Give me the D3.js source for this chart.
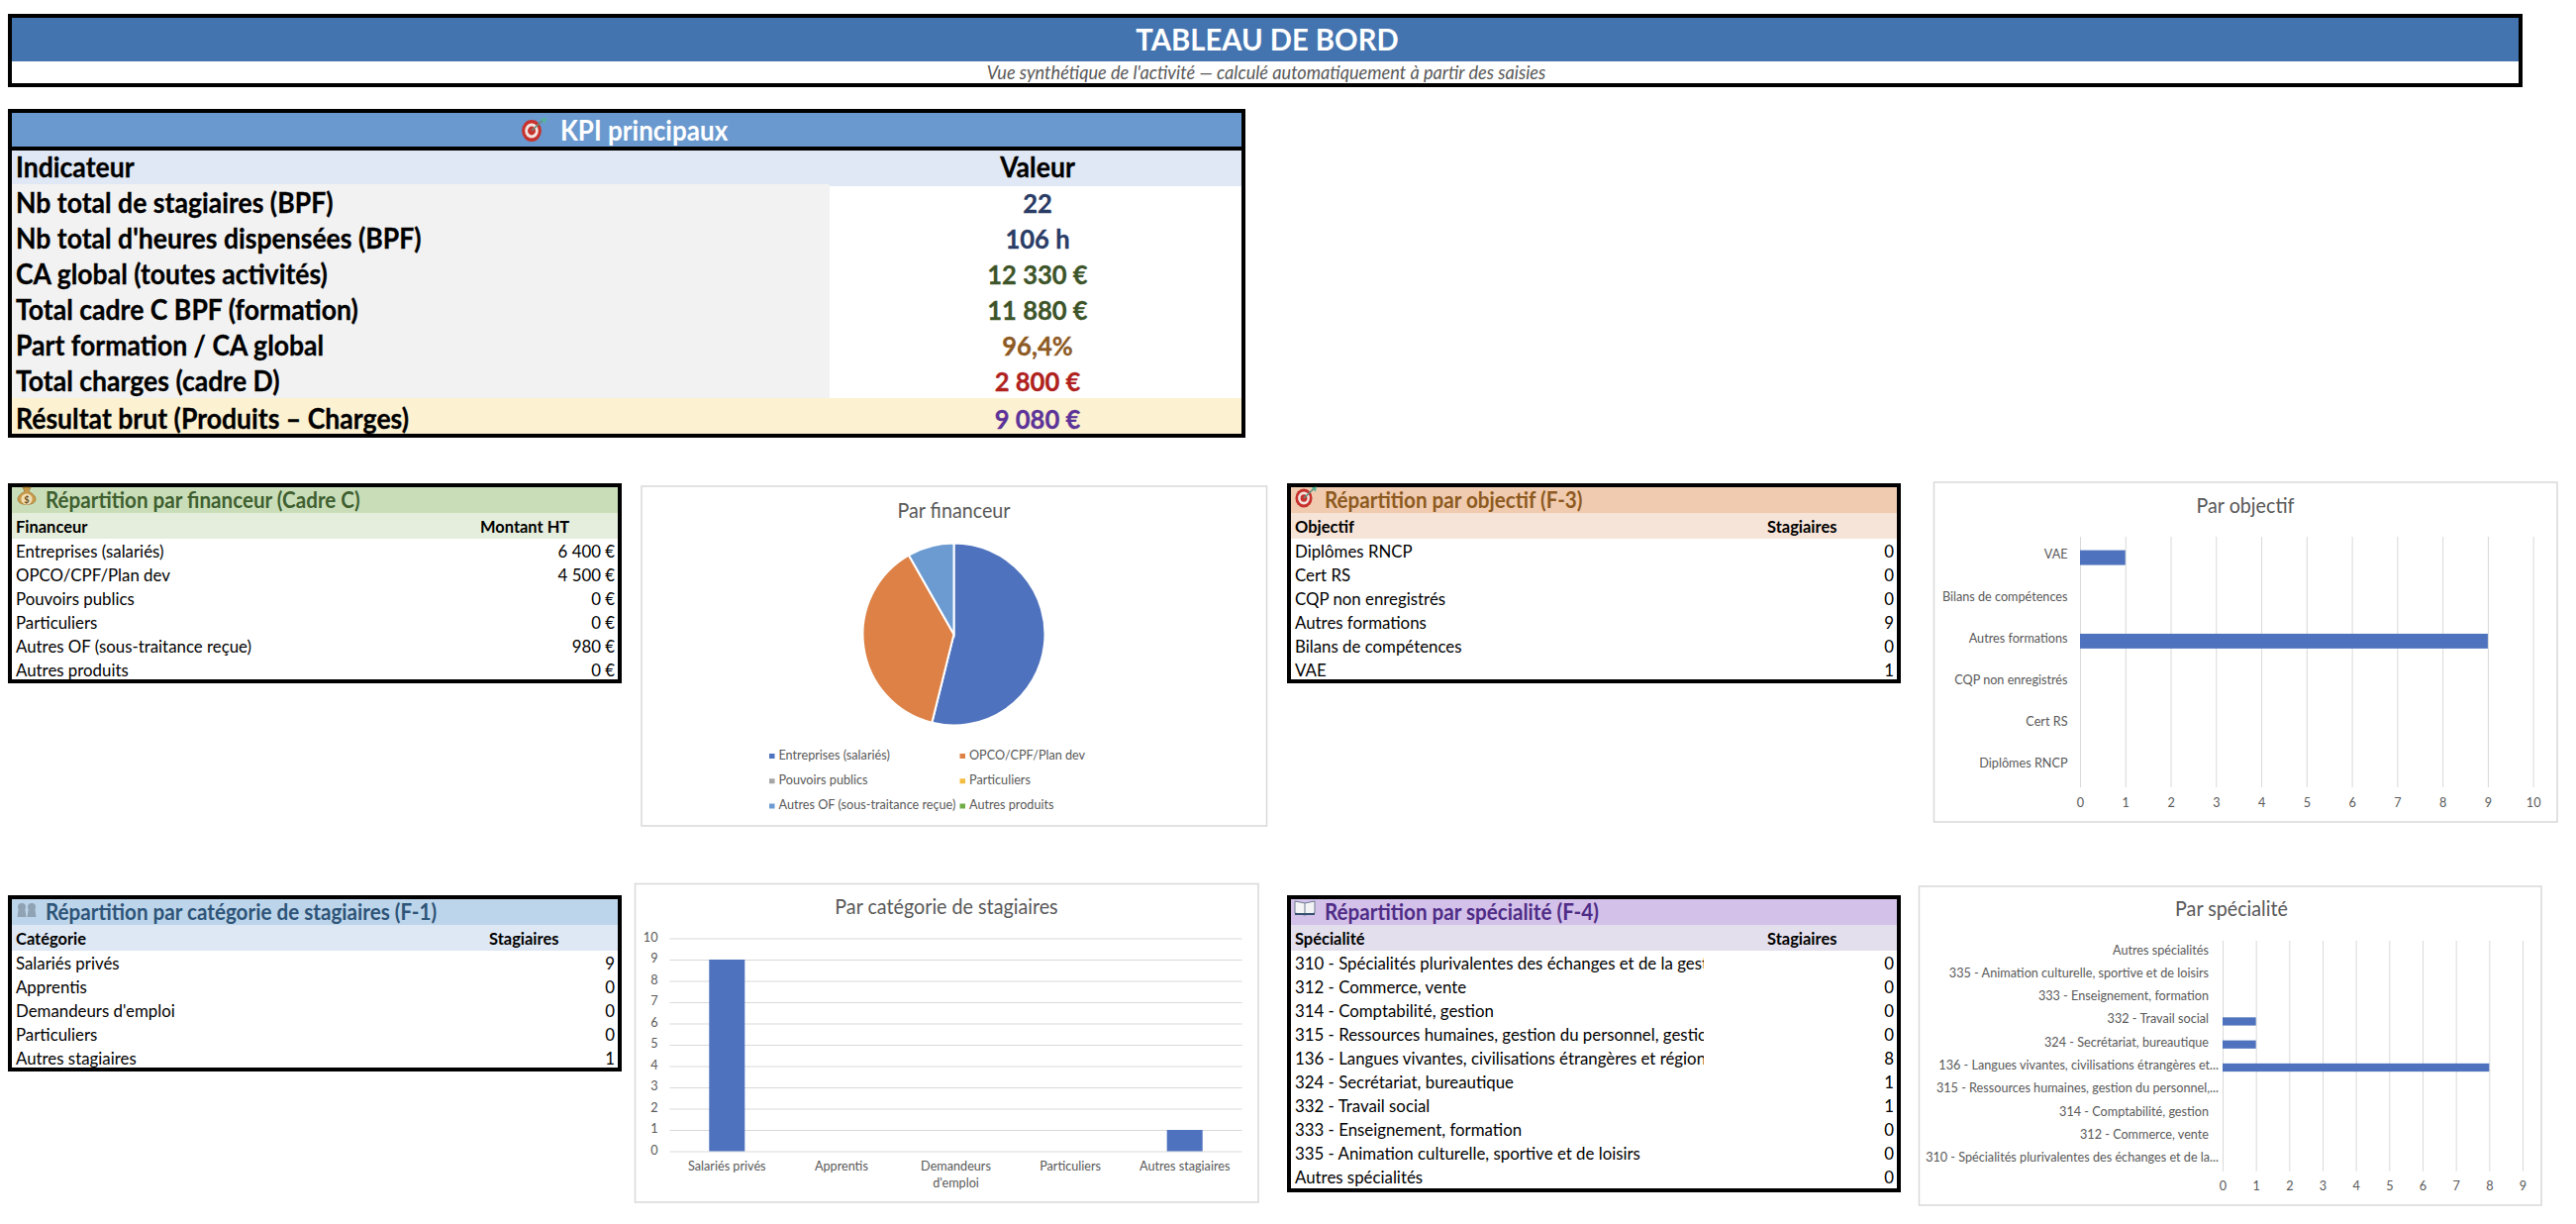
<!DOCTYPE html>
<html lang="fr">
<head>
<meta charset="utf-8">
<title>Tableau de bord</title>
<script src="https://cdn.jsdelivr.net/npm/d3@7/dist/d3.min.js"></script>
<style>
  html, body { margin: 0; padding: 0; background: #fff; }
  svg { display: block; }
  text { font-family: Lato, "Open Sans", sans-serif; }
</style>
</head>
<body>
<svg id="board" width="2602" height="1236"></svg>
<script>
// Indicateurs principaux
const kpiLabels = ["Nb total de stagiaires (BPF)", "Nb total d'heures dispensées (BPF)", "CA global (toutes activités)",
  "Total cadre C BPF (formation)", "Part formation / CA global", "Total charges (cadre D)", "Résultat brut (Produits – Charges)"];
const kpiValues = ["22", "106 h", "12 330 €", "11 880 €", "96,4%", "2 800 €", "9 080 €"];
const kpiColors = ["#2a3c66", "#2a3c66", "#3d5429", "#3d5429", "#8d5a25", "#b0211d", "#5c3399"];

// Répartition par financeur
const financeurs = ["Entreprises (salariés)", "OPCO/CPF/Plan dev", "Pouvoirs publics", "Particuliers", "Autres OF (sous-traitance reçue)", "Autres produits"];
const montants = [6400, 4500, 0, 0, 980, 0];
const financeurColors = ["#4e72bd", "#dd8146", "#a5a5a5", "#f5bd3f", "#6c9bd2", "#70ad47"];

// Répartition par objectif
const objectifs = ["Diplômes RNCP", "Cert RS", "CQP non enregistrés", "Autres formations", "Bilans de compétences", "VAE"];
const objectifStagiaires = [0, 0, 0, 9, 0, 1];
const objectifTicks = [0, 1, 2, 3, 4, 5, 6, 7, 8, 9, 10];

// Répartition par catégorie
const categories = ["Salariés privés", "Apprentis", "Demandeurs d'emploi", "Particuliers", "Autres stagiaires"];
const categorieStagiaires = [9, 0, 0, 0, 1];
const categorieTicks = [0, 1, 2, 3, 4, 5, 6, 7, 8, 9, 10];

// Répartition par spécialité
const specialites = ["310 - Spécialités plurivalentes des échanges et de la gestion", "312 - Commerce, vente", "314 - Comptabilité, gestion",
  "315 - Ressources humaines, gestion du personnel, gestion de l'emploi", "136 - Langues vivantes, civilisations étrangères et régionales",
  "324 - Secrétariat, bureautique", "332 - Travail social", "333 - Enseignement, formation", "335 - Animation culturelle, sportive et de loisirs", "Autres spécialités"];
const specialiteAxisLabels = ["310 - Spécialités plurivalentes des échanges et de la...", "312 - Commerce, vente", "314 - Comptabilité, gestion",
  "315 - Ressources humaines, gestion du personnel,...", "136 - Langues vivantes, civilisations étrangères et...",
  "324 - Secrétariat, bureautique", "332 - Travail social", "333 - Enseignement, formation", "335 - Animation culturelle, sportive et de loisirs", "Autres spécialités"];
const specialiteStagiaires = [0, 0, 0, 0, 8, 1, 1, 0, 0, 0];
const specialiteTicks = [0, 1, 2, 3, 4, 5, 6, 7, 8, 9];

const BAR = "#4e72bd", GRID = "#d9d9d9", INK = "#595959", FRAME = "#d9d9d9";
const svg = d3.select("#board");
const euro = v => d3.format(",")(v).replace(/,/g, " ") + " €";

function put(parent, str, x, y, size, opts = {}) {
  const t = parent.append("text").attr("x", x).attr("y", y).attr("dy", ".35em")
    .attr("font-size", size).attr("font-weight", opts.weight || 400)
    .attr("font-style", opts.italic ? "italic" : null)
    .attr("text-anchor", opts.anchor || "start")
    .attr("fill", opts.color || "#000").text(str);
  if (opts.heavy) t.attr("stroke", opts.color || "#000").attr("stroke-width", opts.heavy);
  return t;
}
function box(parent, x, y, x1, y1, fill) {
  return parent.append("rect").attr("x", x).attr("y", y).attr("width", x1 - x).attr("height", y1 - y).attr("fill", fill);
}

// Petits pictogrammes placés devant les titres de section
function targetIcon(g, cx, cy, r) {
  g.append("ellipse").attr("cx", cx).attr("cy", cy).attr("rx", r * .9).attr("ry", r).attr("fill", "#c8322d");
  g.append("ellipse").attr("cx", cx).attr("cy", cy).attr("rx", r * .62).attr("ry", r * .68).attr("fill", "#f3e4e0");
  g.append("ellipse").attr("cx", cx).attr("cy", cy).attr("rx", r * .36).attr("ry", r * .4).attr("fill", "#c8322d");
  g.append("line").attr("x1", cx).attr("y1", cy).attr("x2", cx + r * 1.05).attr("y2", cy - r * 1.0).attr("stroke", "#5f8f7c").attr("stroke-width", 1.6);
  g.append("path").attr("d", `M${cx + r * .8},${cy - r * 1.1}l${r * .55},${-r * .1}l${-r * .1},${r * .55}z`).attr("fill", "#54b59a");
}
function bagIcon(g, cx, cy) {
  g.append("path").attr("d", `M${cx - 4},${cy - 9}h8l-2,4.5c4.5,2 7,4.5 7,7.5c0,3.5-3.5,5.5-9,5.5s-9-2-9-5.5c0-3 2.5-5.5 7-7.5z`).attr("fill", "#c99a4a").attr("stroke", "#8f6a2a").attr("stroke-width", .6);
  g.append("circle").attr("cx", cx).attr("cy", cy + 3).attr("r", 5.6).attr("fill", "#f0dfb5");
  g.append("text").attr("x", cx).attr("y", cy + 3).attr("dy", ".35em").attr("text-anchor", "middle").attr("font-size", 10).attr("font-weight", 700).attr("fill", "#6d5020").text("$");
}
function peopleIcon(g, cx, cy) {
  [-5, 5].forEach(d => {
    g.append("circle").attr("cx", cx + d).attr("cy", cy - 3).attr("r", 4).attr("fill", "#8fa3b4");
    g.append("path").attr("d", `M${cx + d - 4.5},${cy + 7}l1,-7h7l1,7z`).attr("fill", "#8fa3b4");
  });
}
function bookIcon(g, cx, cy) {
  g.append("path").attr("d", `M${cx - 10},${cy - 6}l10,2l10,-2v12l-10,2l-10,-2z`).attr("fill", "#f4f4f6").attr("stroke", "#6d7d92").attr("stroke-width", 1);
  g.append("line").attr("x1", cx).attr("y1", cy - 4).attr("x2", cx).attr("y2", cy + 8).attr("stroke", "#6d7d92");
  g.append("line").attr("x1", cx - 10).attr("y1", cy + 7).attr("x2", cx + 10).attr("y2", cy + 7).attr("stroke", "#35506e").attr("stroke-width", 2);
}

// Bandeau de titre
{
  const g = svg.append("g");
  box(g, 8, 14, 2548, 88, "#000");
  box(g, 12, 18, 2544, 62, "#4374b0");
  box(g, 12, 62, 2544, 84, "#fff");
  put(g, "TABLEAU DE BORD", 1280, 40, 31.4, { weight: 700, anchor: "middle", color: "#fff" });
  put(g, "Vue synthétique de l'activité — calculé automatiquement à partir des saisies", 1279, 73, 19.5, { italic: true, anchor: "middle", color: INK });
}

// Tableau des indicateurs
{
  const g = svg.append("g");
  box(g, 8, 110, 1258, 442, "#000");
  box(g, 12, 114, 1254, 148, "#6999cf");
  box(g, 12, 152, 1254, 188, "#dfe8f4");
  box(g, 838, 188, 1254, 402, "#fff");
  box(g, 12, 186, 838, 402, "#f2f2f2");
  box(g, 12, 402, 1254, 438, "#fcf1d0");
  targetIcon(g, 537, 132, 11);
  put(g, "KPI principaux", 566, 132, 28, { weight: 700, color: "#fff" });
  put(g, "Indicateur", 16, 169, 28.6, { weight: 700, heavy: .3 });
  put(g, "Valeur", 1048, 169, 28.6, { weight: 700, anchor: "middle", heavy: .3 });
  const rowY = d3.scaleBand().domain(kpiLabels).range([186, 438]);
  kpiLabels.forEach((d, i) => {
    const cy = rowY(d) + rowY.bandwidth() / 2 + (i === kpiLabels.length - 1 ? 3 : 1);
    put(g, d, 16, cy, 28.6, { weight: 700, heavy: .3 });
    put(g, kpiValues[i], 1048, cy, 27.5, { weight: 700, anchor: "middle", color: kpiColors[i], heavy: .3 });
  });
}

// Tableau de répartition avec en-tête coloré
function section(o) {
  const g = svg.append("g");
  const rowH = 24, bodyTop = o.y + 56, bottom = bodyTop + o.labels.length * rowH + (o.slack || 0);
  box(g, o.x, o.y, o.x + 620, bottom + 4, "#000");
  box(g, o.x + 4, o.y + 4, o.x + 616, o.y + 30, o.band);
  box(g, o.x + 4, o.y + 30, o.x + 616, o.y + 56, o.head);
  box(g, o.x + 4, bodyTop, o.x + 616, bottom, "#fff");
  o.icon(g);
  put(g, o.title, o.x + 38, o.y + 17, 22.2, { weight: 700, color: o.titleColor });
  put(g, o.col1, o.x + 8, o.y + 44, 17.7, { weight: 700 });
  put(g, o.col2, o.x + o.col2x, o.y + 44, 17.7, { weight: 700 });
  const clipId = "clip" + o.x + "-" + o.y;
  // Les lignes sont translatées : le rectangle de découpe reste relatif à chaque ligne
  svg.append("clipPath").attr("id", clipId).append("rect").attr("x", o.x).attr("y", -13).attr("width", 421).attr("height", rowH + 2);
  const rows = g.selectAll("g.row").data(o.labels).join("g").attr("class", "row")
    .attr("transform", (d, i) => `translate(0,${bodyTop + i * rowH + 13})`);
  const labelGroup = rows.append("g").attr("clip-path", o.clip ? `url(#${clipId})` : null);
  labelGroup.each(function (d) { put(d3.select(this), d, o.x + 8, 0, 18.1); });
  rows.each(function (d, i) { put(d3.select(this), o.format(o.values[i]), o.x + 613, 0, 18.1, { anchor: "end" }); });
}

function frame(x, y, x1, y1) {
  return svg.append("rect").attr("x", x).attr("y", y).attr("width", x1 - x).attr("height", y1 - y)
    .attr("fill", "#fff").attr("stroke", FRAME).attr("stroke-width", 1.5);
}

section({ x: 8, y: 488, band: "#c9deb8", head: "#e5eedc", title: "Répartition par financeur (Cadre C)", titleColor: "#3f5f30",
  col1: "Financeur", col2: "Montant HT", col2x: 477, labels: financeurs, values: montants, format: euro, slack: -2, icon: g => bagIcon(g, 27, 501) });
section({ x: 1300, y: 488, band: "#f0cbaf", head: "#f7e4d8", title: "Répartition par objectif (F-3)", titleColor: "#8d5a1f",
  col1: "Objectif", col2: "Stagiaires", col2x: 485, labels: objectifs, values: objectifStagiaires, format: String, slack: -2, icon: g => targetIcon(g, 1317, 503, 9.5) });
section({ x: 8, y: 904, band: "#bdd5ea", head: "#dee8f4", title: "Répartition par catégorie de stagiaires (F-1)", titleColor: "#2e5478",
  col1: "Catégorie", col2: "Stagiaires", col2x: 486, labels: categories, values: categorieStagiaires, format: String, slack: -2, icon: g => peopleIcon(g, 27, 919) });
section({ x: 1300, y: 904, band: "#d3c1e9", head: "#e3dfec", title: "Répartition par spécialité (F-4)", titleColor: "#4f2c86",
  col1: "Spécialité", col2: "Stagiaires", col2x: 485, labels: specialites, values: specialiteStagiaires, format: String, clip: true, icon: g => bookIcon(g, 1318, 916) });

// Camembert par financeur
{
  frame(648, 491, 1279.5, 834);
  const g = svg.append("g");
  put(g, "Par financeur", 963.5, 516, 21.2, { anchor: "middle", color: INK });
  const arcs = d3.pie().sort(null)(montants);
  const arc = d3.arc().innerRadius(0).outerRadius(92);
  g.append("g").attr("transform", "translate(963.5,640.5)").selectAll("path")
    .data(arcs.filter(d => d.value > 0)).join("path").attr("d", arc)
    .attr("fill", d => financeurColors[d.index]).attr("stroke", "#fff").attr("stroke-width", 2);
  const col = d3.scalePoint().domain([0, 1]).range([777, 969.5]);
  const row = d3.scalePoint().domain([0, 1, 2]).range([762, 812.5]);
  financeurs.forEach((d, i) => {
    const x = col(i % 2), y = row(Math.floor(i / 2));
    box(g, x, y - 1, x + 5.5, y + 4, financeurColors[i]);
    put(g, d, x + 9.5, y, 13.6, { color: INK });
  });
}

// Barres horizontales : le premier élément se trouve en bas de l'axe
function hBars(o) {
  frame(o.frame[0], o.frame[1], o.frame[2], o.frame[3]);
  const g = svg.append("g");
  put(g, o.title, o.titleX, o.titleY, 21.2, { anchor: "middle", color: INK });
  const x = d3.scaleLinear().domain([0, d3.max(o.ticks)]).range([o.x0, o.x1]);
  const y = d3.scaleBand().domain(o.labels.slice().reverse()).range([o.y0, o.y1]).paddingInner(.645).paddingOuter(.3225);
  const xAxis = g.append("g").attr("transform", `translate(0,${o.y1})`)
    .call(d3.axisBottom(x).tickValues(o.ticks).tickSize(o.y0 - o.y1).tickPadding(o.tickPad).tickFormat(d3.format("d")));
  xAxis.select(".domain").remove();
  xAxis.selectAll("line").attr("stroke", GRID).attr("stroke-width", 1);
  xAxis.selectAll("text").attr("font-size", 13.6).attr("fill", INK).style("font-family", "Lato");
  g.selectAll("rect.bar").data(o.values).join("rect").attr("class", "bar")
    .attr("x", x(0)).attr("y", (d, i) => y(o.labels[i])).attr("width", d => x(d) - x(0))
    .attr("height", y.bandwidth()).attr("fill", BAR);
  const yAxis = g.append("g").attr("transform", `translate(${o.labelX},0)`)
    .call(d3.axisLeft(y).tickSize(0).tickPadding(0));
  yAxis.select(".domain").remove();
  yAxis.selectAll("text").attr("font-size", 13.6).attr("fill", INK).style("font-family", "Lato")
    .attr("dy", o.labelDy)
    .attr("x", d => d.endsWith("...") ? o.ellipsisShift : 0);
}

hBars({ frame: [1953.5, 487, 2583, 830], title: "Par objectif", titleX: 2268, titleY: 511, labels: objectifs, values: objectifStagiaires, ticks: objectifTicks,
  x0: 2101, x1: 2558.7, y0: 542, y1: 795, tickPad: 10, labelX: 2088.5, labelDy: "0.1em", ellipsisShift: 0 });
hBars({ frame: [1938.5, 895, 2567, 1217], title: "Par spécialité", titleX: 2254, titleY: 918, labels: specialiteAxisLabels, values: specialiteStagiaires, ticks: specialiteTicks,
  x0: 2245, x1: 2548, y0: 950, y1: 1182.7, tickPad: 10, labelX: 2231, labelDy: "0.15em", ellipsisShift: 10 });

// Colonnes par catégorie de stagiaires
{
  frame(641.5, 892.5, 1271, 1214);
  const g = svg.append("g");
  put(g, "Par catégorie de stagiaires", 956, 916, 21.2, { anchor: "middle", color: INK });
  const x = d3.scaleBand().domain(categories).range([676.5, 1254.5]).paddingInner(.6886).paddingOuter(.3443);
  const y = d3.scaleLinear().domain([0, 10]).range([1162.5, 947.5]);
  const yAxis = g.append("g").attr("transform", "translate(676.5,0)")
    .call(d3.axisLeft(y).tickValues(categorieTicks).tickSize(-578).tickPadding(12).tickFormat(d3.format("d")));
  yAxis.select(".domain").remove();
  yAxis.selectAll("line").attr("stroke", GRID).attr("stroke-width", 1);
  yAxis.selectAll("text").attr("font-size", 13.6).attr("fill", INK).style("font-family", "Lato").attr("dy", ".2em");
  g.selectAll("rect.bar").data(categorieStagiaires).join("rect").attr("class", "bar")
    .attr("x", (d, i) => x(categories[i])).attr("y", d => y(d)).attr("width", x.bandwidth())
    .attr("height", d => y(0) - y(d)).attr("fill", BAR);
  const xAxis = g.append("g").attr("transform", "translate(0,1162.5)")
    .call(d3.axisBottom(x).tickSize(0).tickPadding(10));
  xAxis.select(".domain").remove();
  xAxis.selectAll("text").attr("font-size", 13.6).attr("fill", INK).style("font-family", "Lato")
    .each(function (d) {
      // Les libellés trop longs passent sur deux lignes, comme dans un axe de tableur
      const t = d3.select(this), parts = d.split(" d'");
      if (parts.length === 2) {
        t.text(null);
        t.append("tspan").attr("x", 0).attr("dy", "0.71em").text(parts[0]);
        t.append("tspan").attr("x", 0).attr("dy", "1.27em").text("d'" + parts[1]);
      }
    });
}

// Resserre le rendu de Lato sur la chasse plus étroite de Calibri
const SQUEEZE = 0.93;
svg.selectAll("text").each(function () {
  const spans = this.querySelectorAll("tspan");
  (spans.length ? Array.from(spans) : [this]).forEach(n => {
    n.setAttribute("textLength", (n.getComputedTextLength() * SQUEEZE).toFixed(2));
    n.setAttribute("lengthAdjust", "spacingAndGlyphs");
  });
});
</script>
</body>
</html>
